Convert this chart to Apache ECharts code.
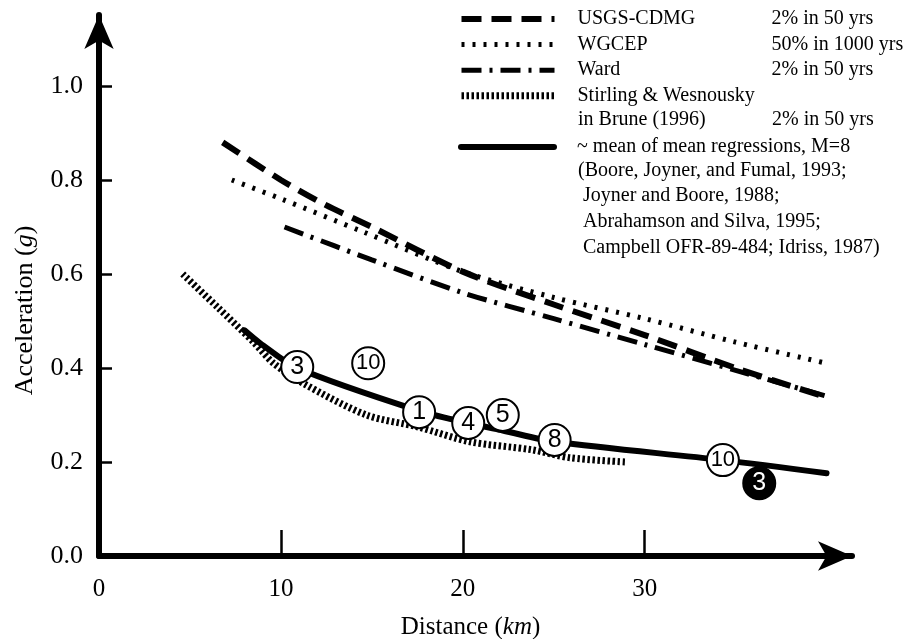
<!DOCTYPE html>
<html>
<head>
<meta charset="utf-8">
<title>Acceleration vs distance</title>
<script src="https://cdn.jsdelivr.net/npm/echarts@6/dist/echarts.min.js"></script>
<style>
    html, body { margin: 0; padding: 0; background: #fff; }
    #chart { width: 913px; height: 639px; }
</style>
</head>
<body>
<div id="chart"></div>
<script>
"use strict";

// [distance (km), acceleration (g)]
var usgsCdmg = [[6.8, 0.88], [10, 0.80], [12.3, 0.75], [15, 0.70], [20, 0.605], [25, 0.535], [30, 0.47], [35, 0.40], [39.8, 0.34]];
var wgcep = [[7.3, 0.80], [10, 0.76], [14.5, 0.69], [20, 0.605], [25, 0.55], [30, 0.505], [35, 0.455], [40, 0.41]];
var ward = [[10.2, 0.70], [15, 0.63], [20, 0.56], [25, 0.505], [30, 0.45], [35, 0.395], [40, 0.34]];
var stirling = [[4.6, 0.60], [6.5, 0.53], [8.5, 0.455], [9.6, 0.41], [11.2, 0.368], [14.7, 0.30], [17.5, 0.275], [20.4, 0.243], [23.8, 0.226], [25.9, 0.209], [29.0, 0.20]];
var meanRegression = [[8.0, 0.48], [8.85, 0.453], [10.9, 0.40], [17.5, 0.31], [20.3, 0.283], [22.2, 0.267], [25.1, 0.243], [34.3, 0.204], [40.0, 0.176]];

// circled site numbers
var siteLabels = ['3', '10', '1', '4', '5', '8', '10', '3'];
var sitePoints = [[10.9, 0.402], [14.8, 0.41], [17.6, 0.306], [20.3, 0.283], [22.2, 0.30], [25.05, 0.247], [34.3, 0.204], [36.3, 0.155]];
var siteFilled = [false, false, false, false, false, false, false, true];

var xTickValues = [10, 20, 30];
var xLabelValues = [0, 10, 20, 30];
var yTickValues = [0.2, 0.4, 0.6, 0.8, 1.0];
var yLabelValues = [0, 0.2, 0.4, 0.6, 0.8, 1.0];

var legendNames = ['USGS-CDMG', 'WGCEP', 'Ward', 'Stirling & Wesnousky', '~ mean of mean regressions, M=8'];
var legendNotes = ['2% in 50 yrs', '50% in 1000 yrs', '2% in 50 yrs', '', ''];
var legendExtraLines = [
    { row: 4, text: 'in Brune (1996)', note: '2% in 50 yrs' },
    { row: 6, text: '(Boore, Joyner, and Fumal, 1993;', note: '' },
    { row: 7, text: ' Joyner and Boore, 1988;', note: '' },
    { row: 8, text: ' Abrahamson and Silva, 1995;', note: '' },
    { row: 9, text: ' Campbell OFR-89-484; Idriss, 1987)', note: '' }
];

(function () {
    var SERIF = '"Liberation Serif", "Times New Roman", serif';
    var ROW = 25.6, ROW0 = 17, TEXT_X = 578, NOTE_X = 772;

    function lineSeries(name, data, width, dash, cap) {
        return {
            name: name,
            type: 'line',
            data: data,
            symbol: 'none',
            smooth: 0.3,
            z: 3,
            silent: true,
            lineStyle: { color: '#000', width: width, type: dash, cap: cap || 'butt' }
        };
    }

    function legendBlock(names, top) {
        return {
            data: names,
            orient: 'vertical',
            left: 453,
            top: top,
            itemWidth: 93,
            itemHeight: 14,
            itemGap: ROW - 20,
            selectedMode: false,
            lineStyle: { width: 'inherit' },
            itemStyle: { opacity: 0 },
            formatter: function (name) {
                var note = legendNotes[legendNames.indexOf(name)];
                return '{a|' + name + '}' + (note ? '{b|' + note + '}' : '');
            },
            textStyle: {
                color: '#000',
                fontFamily: SERIF,
                fontSize: 20,
                rich: {
                    a: { fontFamily: SERIF, fontSize: 20, width: NOTE_X - TEXT_X, padding: [0, 0, 0, 18] },
                    b: { fontFamily: SERIF, fontSize: 20 }
                }
            }
        };
    }

    function extraText() {
        var out = [];
        legendExtraLines.forEach(function (l) {
            var y = ROW0 + l.row * ROW;
            out.push({ type: 'text', silent: true, style: { text: l.text, x: TEXT_X, y: y, font: '20px ' + SERIF, fill: '#000', verticalAlign: 'middle' } });
            if (l.note) {
                out.push({ type: 'text', silent: true, style: { text: l.note, x: NOTE_X, y: y, font: '20px ' + SERIF, fill: '#000', verticalAlign: 'middle' } });
            }
        });
        return out;
    }

    try {
        var chart = echarts.init(document.getElementById('chart'), null, { renderer: 'canvas' });
        chart.setOption({
            animation: false,
            backgroundColor: '#fff',
            grid: { left: 99, right: 61, top: 15, bottom: 83, outerBoundsMode: 'none' },
            legend: [
                legendBlock(legendNames.slice(0, 4), ROW0 - 13),
                legendBlock(legendNames.slice(4), ROW0 + 5 * ROW - 13)
            ],
            xAxis: {
                type: 'value',
                min: 0,
                max: 41.4,
                interval: 10,
                name: '{n|Distance (}{i|km}{e|)}',
                nameLocation: 'middle',
                nameGap: 59,
                nameTextStyle: {
                    rich: {
                        n: { fontFamily: SERIF, fontSize: 25, color: '#000' },
                        i: { fontFamily: SERIF, fontSize: 25, fontStyle: 'italic', color: '#000' },
                        e: { fontFamily: SERIF, fontSize: 25, color: '#000', padding: [0, 10, 0, 0] }
                    }
                },
                axisLine: { show: true, symbol: ['none', 'arrow'], symbolSize: [22, 34], lineStyle: { color: '#000', width: 6 } },
                axisTick: { show: true, inside: true, length: 26, customValues: xTickValues, lineStyle: { color: '#000', width: 2.5 } },
                axisLabel: { customValues: xLabelValues, color: '#000', fontFamily: SERIF, fontSize: 25, margin: 21 },
                splitLine: { show: false }
            },
            yAxis: {
                type: 'value',
                min: 0,
                max: 1.151,
                interval: 0.2,
                name: '{n|Acceleration (}{i|g}{e|)}',
                nameLocation: 'middle',
                nameGap: 61,
                nameRotate: 90,
                nameTextStyle: {
                    rich: {
                        n: { fontFamily: SERIF, fontSize: 26, color: '#000' },
                        i: { fontFamily: SERIF, fontSize: 26, fontStyle: 'italic', color: '#000' },
                        e: { fontFamily: SERIF, fontSize: 26, color: '#000', padding: [0, 50, 0, 0] }
                    }
                },
                axisLine: { show: true, symbol: ['none', 'arrow'], symbolSize: [22, 34], lineStyle: { color: '#000', width: 6 } },
                axisTick: { show: true, inside: true, length: 13, customValues: yTickValues, lineStyle: { color: '#000', width: 2.5 } },
                axisLabel: {
                    customValues: yLabelValues,
                    formatter: function (v) { return v.toFixed(1); },
                    color: '#000', fontFamily: SERIF, fontSize: 26, margin: 16
                },
                splitLine: { show: false }
            },
            graphic: extraText(),
            series: [
                lineSeries('USGS-CDMG', usgsCdmg, 6, [20, 10]),
                lineSeries('WGCEP', wgcep, 5, [3, 8]),
                lineSeries('Ward', ward, 5, [20, 8, 3, 8]),
                lineSeries('Stirling & Wesnousky', stirling, 7, [2.5, 2.5]),
                lineSeries('~ mean of mean regressions, M=8', meanRegression, 6, 'solid', 'round'),
                {
                    type: 'scatter',
                    z: 5,
                    silent: true,
                    symbol: 'circle',
                    symbolSize: 32,
                    data: sitePoints.map(function (p, i) {
                        return {
                            value: p,
                            itemStyle: { color: siteFilled[i] ? '#000' : '#fff' },
                            label: { color: siteFilled[i] ? '#fff' : '#000', fontSize: siteLabels[i].length > 1 ? 22 : 25 }
                        };
                    }),
                    itemStyle: { borderColor: '#000', borderWidth: 2, opacity: 1 },
                    label: {
                        show: true,
                        position: 'inside',
                        fontFamily: '"Liberation Sans", Arial, sans-serif',
                        formatter: function (p) { return siteLabels[p.dataIndex]; }
                    }
                }
            ]
        });
    } catch (e) {
        console.log(e.name + ': ' + e.message);
    }
})();
</script>
</body>
</html>
